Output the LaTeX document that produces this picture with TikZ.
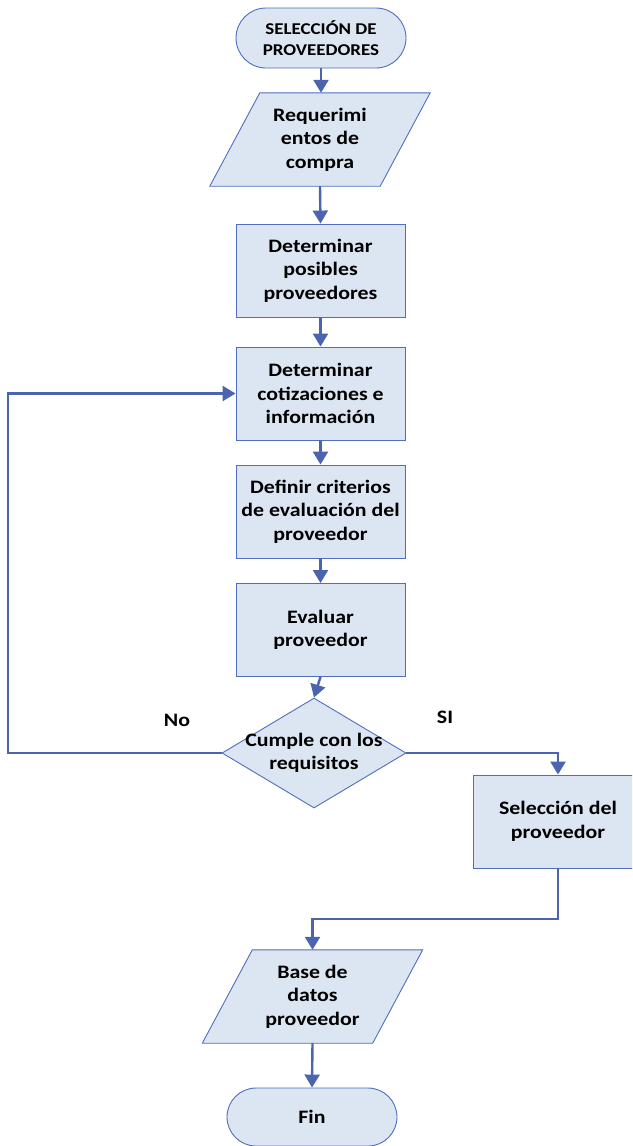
\documentclass[tikz,border=0pt]{standalone}
\usepackage{fontspec}
\setmainfont{Carlito}[FakeStretch=1.15]
\usetikzlibrary{arrows.meta,shapes.geometric,shapes.misc,backgrounds,calc}

\definecolor{boxfill}{RGB}{220,230,242}
\definecolor{boxline}{RGB}{79,110,190}
\definecolor{flow}{RGB}{74,100,176}

\tikzset{
  x=1pt, y=-1pt,
  txt/.style={font=\bfseries\fontsize{19}{23.5}\selectfont, align=center, text=black},
  terminal/.style={rounded rectangle, draw=boxline, fill=boxfill, line width=0.9pt,
    minimum width=170pt, inner sep=0pt, txt},
  procbox/.style={rectangle, draw=boxline, fill=boxfill, line width=0.9pt,
    minimum width=169pt, minimum height=93pt, inner sep=0pt, txt},
  iobox/.style={rectangle, draw=none, minimum width=170pt, minimum height=93pt, inner sep=0pt, txt},
  iofill/.style={draw=boxline, fill=boxfill, line width=0.9pt, line join=miter},
  decision/.style={diamond, draw=boxline, fill=boxfill, line width=0.9pt,
    minimum width=184pt, minimum height=110pt, inner sep=0pt},
  arr/.style={draw=flow, line width=2.4pt, -{Triangle[length=13pt,width=15pt]}},
  lbl/.style={txt}
}

% skewed input/output box drawn behind its text node
\newcommand{\iobackground}[1]{%
  \begin{scope}[on background layer]
    \path[iofill] ($(#1.south west)+(-25pt,0)$) -- ($(#1.south east)+(-25pt,0)$)
      -- ($(#1.north east)+(25pt,0)$) -- ($(#1.north west)+(25pt,0)$) -- cycle;
  \end{scope}}

\begin{document}
\begin{tikzpicture}
\useasboundingbox (0,0) rectangle (632,1146);
\clip (0,0) rectangle (632,1146);

% main column
\node[terminal, minimum height=60pt, font=\bfseries\fontsize{16.5}{20.5}\selectfont] (start) at (321,38)
  {SELECCIÓN DE\\PROVEEDORES};
\node[iobox] (req) at (320,139.5) {Requerimi\\entos de\\compra};
\iobackground{req}
\node[procbox] (posib) at (320.5,270.5) {Determinar\\posibles\\proveedores};
\node[procbox] (cotiz) at (320.5,393.5) {Determinar\\cotizaciones e\\información};
\node[procbox] (crit) at (320.5,511.5) {Definir criterios\\de evaluación del\\proveedor};
\node[procbox] (evalp) at (320.5,630) {Evaluar\\proveedor};
\node[decision] (dec) at (314,753) {};
\node[txt] (dectext) at (dec.center) {Cumple con los\\requisitos};
\node[procbox, minimum width=170pt] (sel) at (558,821.5) {Selección del\\proveedor};
\node[iobox] (base) at (312.5,996.5) {Base de\\datos\\proveedor};
\iobackground{base}
\node[terminal, minimum height=58pt] (fin) at (312,1117) {Fin};

% branch labels
\node[lbl] (no) at (177,720) {No};
\node[lbl] (si) at (445,717) {SI};

% helper points for the loop and the join
\coordinate (loopL) at (8,753);
\coordinate (join) at (0,919);

% straight connectors
\draw[arr] (start.south) -- (start.south |- req.north);
\draw[arr] (req.south) -- (posib.north);
\draw[arr] (posib.south) -- (cotiz.north);
\draw[arr] (cotiz.south) -- (crit.north);
\draw[arr] (crit.south) -- (evalp.north);
\draw[arr] (evalp.south) -- (dec.north);
\draw[arr] (base.south) -- (fin.north);

% decision branches
\draw[arr] (dec.west) -- (loopL) |- (cotiz.west);
\draw[arr] (dec.east) -| (sel.north);
\draw[arr] (sel.south) -- (sel.south |- join) -| (base.north);
\end{tikzpicture}
\end{document}
